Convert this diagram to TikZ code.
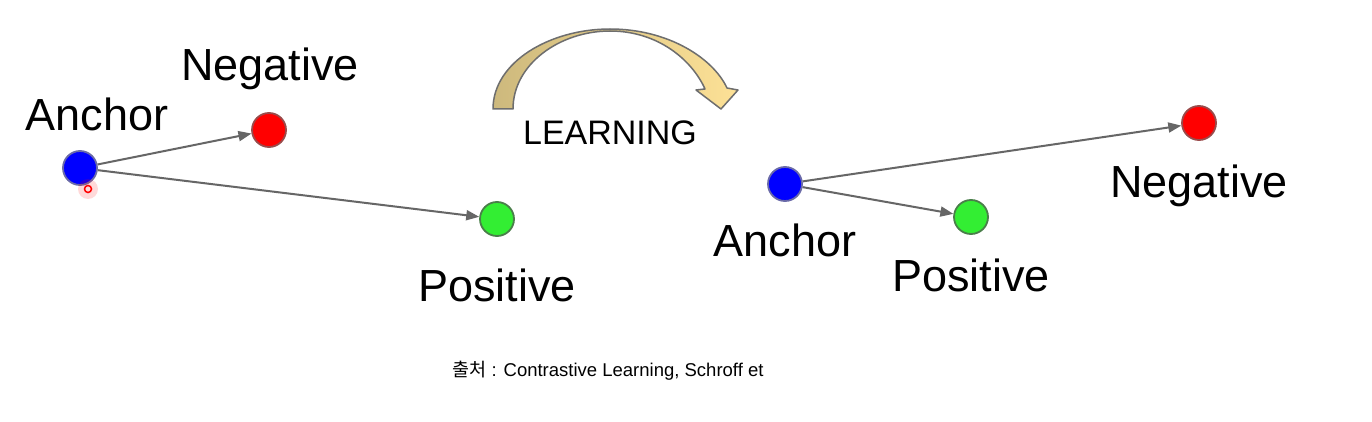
\documentclass[tikz,border=0pt]{standalone}
\usepackage{fontspec}
\setmainfont{Liberation Sans}
\newfontfamily\krfont{Noto Sans CJK KR}
\usetikzlibrary{arrows.meta}
\definecolor{arrowgray}{HTML}{666666}
\definecolor{bluefill}{HTML}{0000FF}
\definecolor{blueedge}{HTML}{6A6AA8}
\definecolor{redfill}{HTML}{FF0000}
\definecolor{rededge}{HTML}{9A4A4A}
\definecolor{greenfill}{HTML}{33EE33}
\definecolor{greenedge}{HTML}{4A7F4A}
\definecolor{tanleft}{HTML}{CDB97D}
\definecolor{tanright}{HTML}{FDE196}
\definecolor{outline}{HTML}{6E6E6E}
\begin{document}
\begin{tikzpicture}[x=1pt,y=-1pt,
  dot/.style={circle, minimum size=34pt, inner sep=0pt, line width=1.8pt},
  anchordot/.style={dot, fill=bluefill, draw=blueedge},
  negdot/.style={dot, fill=redfill, draw=rededge},
  posdot/.style={dot, fill=greenfill, draw=greenedge},
  lbl/.style={font=\fontsize{45}{48}\selectfont, anchor=base, inner sep=0pt},
  conn/.style={draw=arrowgray, line width=2pt, -{Triangle[length=13pt,width=10pt]}},
]
\useasboundingbox[fill=white] (0,0) rectangle (1372,422);

% left configuration
\node[anchordot] (a1) at (80,168) {};
\node[negdot] (n1) at (269,130) {};
\node[posdot] (p1) at (497,219) {};
\node[lbl] (ta1) at (97,131) {Anchor};
\node[lbl] (tn1) at (270,81) {Negative};
\node[lbl] (tp1) at (497,301) {Positive};
\draw[conn] (a1) -- (n1);
\draw[conn] (a1) -- (p1);

% cursor mark
\fill[red, opacity=0.15] (88,189) circle (10);
\draw[red, line width=1.5pt] (88,189) circle (3.5);

% learning arrow
\shadedraw[left color=tanleft, right color=tanright, draw=outline, line width=1.5pt, line join=round]
  (493,109) .. controls (493,62) and (550,29) .. (610,29)
  .. controls (668,29) and (713,58) .. (727,88)
  -- (738,90) -- (721,109) -- (696,90) -- (705,89)
  .. controls (692,60) and (658,31) .. (610,31)
  .. controls (560,31) and (513,64) .. (513,109) -- cycle;
\node[font=\fontsize{34}{38}\selectfont, anchor=base, inner sep=0pt] (learn) at (610,145) {LEARNING};

% right configuration
\node[anchordot] (a2) at (785,184) {};
\node[posdot] (p2) at (971,217) {};
\node[negdot] (n2) at (1199,123) {};
\node[lbl] (ta2) at (785,256) {Anchor};
\node[lbl] (tp2) at (971,291) {Positive};
\node[lbl] (tn2) at (1199,197) {Negative};
\draw[conn] (a2) -- (n2);
\draw[conn] (a2) -- (p2);

% source
\node[font=\fontsize{18.5}{22}\selectfont, anchor=base, inner sep=0pt] (src) at (608,376) {{\krfont 출처} : Contrastive Learning, Schroff et};
\end{tikzpicture}
\end{document}
